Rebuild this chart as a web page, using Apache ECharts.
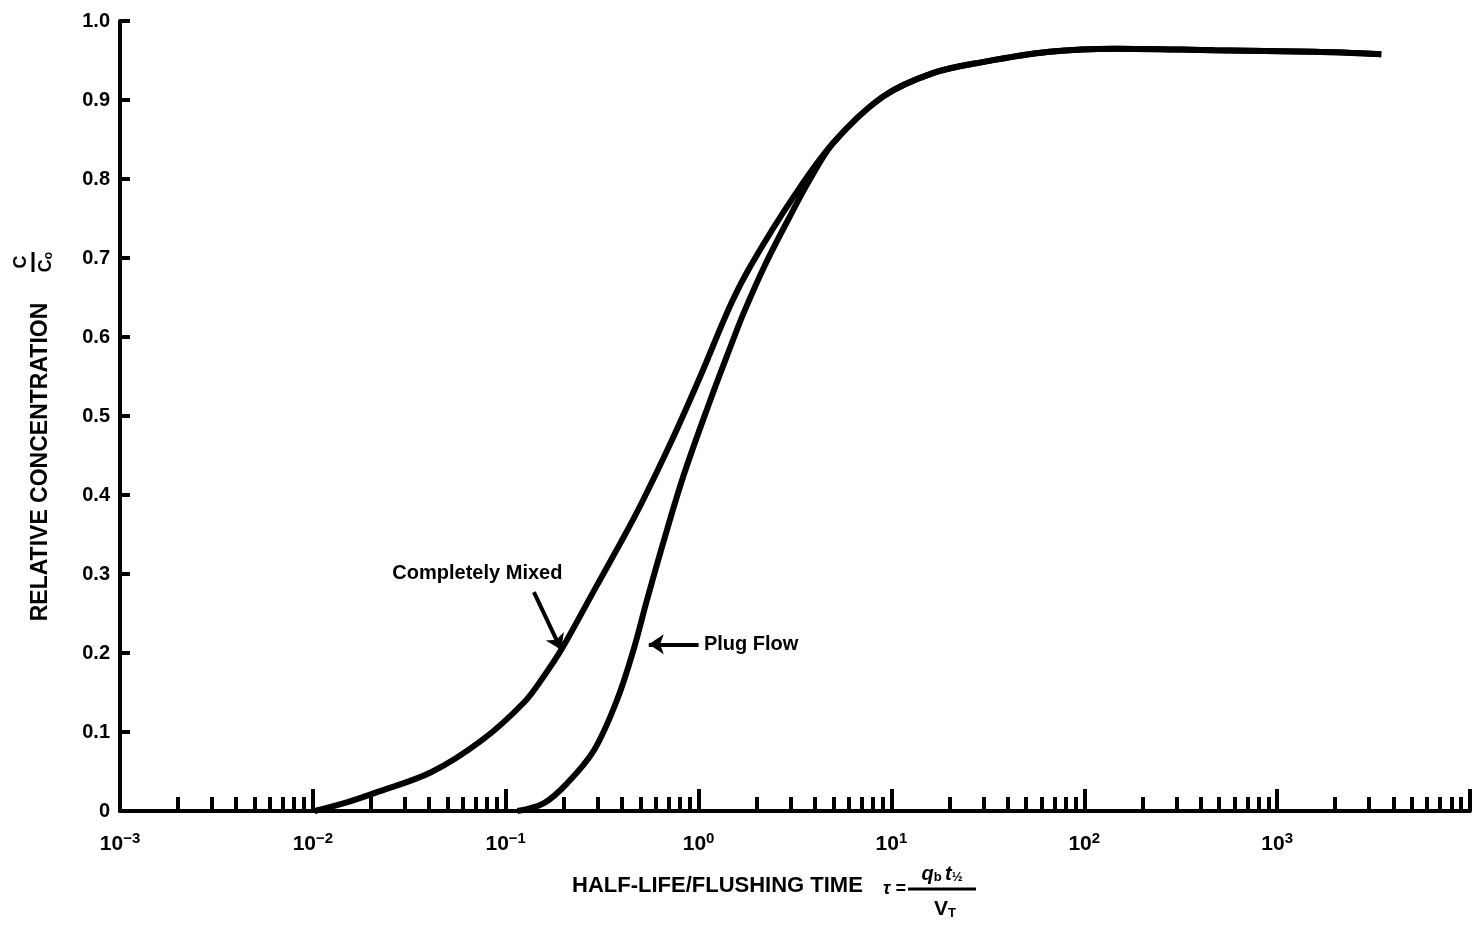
<!DOCTYPE html>
<html>
<head>
<meta charset="utf-8">
<title>Relative concentration vs half-life / flushing time</title>
<script src="https://cdn.jsdelivr.net/npm/echarts@6/dist/echarts.min.js"></script>
<style>
  html, body { margin: 0; padding: 0; background: #fff; }
  #chart { width: 1473px; height: 952px; }
</style>
</head>
<body>
<div id="chart"></div>
<script>
// tau = half-life / flushing time
const mixedTau = [0.0102, 0.015, 0.021, 0.041, 0.0756, 0.125, 0.158, 0.194, 0.287, 0.395, 0.50, 0.717, 1.02, 1.46, 1.86, 3.1, 5.0, 9.0, 16.4, 29.7, 65.9, 145, 475, 1563, 3467];
const mixedC   = [0.0, 0.011, 0.023, 0.049, 0.09, 0.138, 0.171, 0.204, 0.279, 0.34, 0.387, 0.466, 0.55, 0.64, 0.69, 0.777, 0.846, 0.904, 0.934, 0.948, 0.961, 0.965, 0.963, 0.961, 0.958];

const plugTau = [0.115, 0.158, 0.208, 0.287, 0.377, 0.46, 0.54, 0.66, 0.837, 1.15, 1.46, 1.71, 2.24, 3.1, 3.79, 5.0, 9.0, 16.4, 29.7, 65.9, 145, 475, 1563, 3467];
const plugC   = [0.0, 0.01, 0.035, 0.077, 0.14, 0.204, 0.267, 0.342, 0.425, 0.52, 0.587, 0.63, 0.694, 0.761, 0.80, 0.846, 0.904, 0.934, 0.948, 0.961, 0.965, 0.963, 0.961, 0.958];

const xMajorTicks = [0.001, 0.01, 0.1, 1, 10, 100, 1000, 10000];
const xLabelValues = [0.001, 0.01, 0.1, 1, 10, 100, 1000];
const xLabelExps = ['−3', '−2', '−1', '0', '1', '2', '3'];
const xMinorSteps = [2, 3, 4, 5, 6, 7, 8, 9];

// annotations (data coordinates)
const mixedLabel = { name: 'Completely Mixed', coord: [0.0713, 0.301] };
const mixedArrow = [[0.140, 0.277], [0.194, 0.204]];
const plugLabel = { name: 'Plug Flow', coord: [1.06, 0.211] };
const plugArrow = [[1.0, 0.211], [0.552, 0.211]];

const FONT = "'Liberation Sans', Arial, sans-serif";

let xMinorTicks = [];
xMajorTicks.slice(0, -1).forEach(d => {
  xMinorSteps.forEach(s => xMinorTicks.push(+(d * s).toPrecision(3)));
});

const chart = echarts.init(document.getElementById('chart'));

function zip(xs, ys) {
  return xs.map((x, i) => [x, ys[i]]);
}

function arrowLine(pts) {
  return [{ coord: pts[0] }, { coord: pts[1] }];
}

function curve(name, data, arrow, label, labelPos) {
  return {
    name: name,
    type: 'line',
    data: data,
    smooth: 0.35,
    showSymbol: false,
    silent: true,
    lineStyle: { color: '#000', width: 6 },
    markLine: {
      silent: true,
      symbol: ['none', 'arrow'],
      symbolSize: 15,
      label: { show: false },
      lineStyle: { color: '#000', width: 4, type: 'solid' },
      data: [arrowLine(arrow)]
    },
    markPoint: {
      silent: true,
      symbol: 'circle',
      symbolSize: 1,
      itemStyle: { color: 'rgba(0,0,0,0)' },
      label: {
        show: true, position: labelPos, distance: 0, formatter: '{b}',
        fontFamily: FONT, fontWeight: 'bold', fontSize: 20, color: '#000'
      },
      data: [label]
    }
  };
}

const logAxisBase = {
  type: 'log',
  logBase: 10,
  min: 0.001,
  max: 10000,
  position: 'bottom',
  splitLine: { show: false }
};

chart.setOption({
  animation: false,
  backgroundColor: '#fff',
  grid: { left: 120, right: 3, top: 21, bottom: 141 },
  xAxis: [
    Object.assign({}, logAxisBase, {
      axisLine: { lineStyle: { color: '#000', width: 4 } },
      axisTick: {
        inside: true, length: 22, customValues: xMajorTicks,
        lineStyle: { color: '#000', width: 4 }
      },
      axisLabel: {
        customValues: xLabelValues,
        margin: 20,
        formatter: v => {
          const i = xLabelValues.findIndex(t => Math.abs(Math.log10(t) - Math.log10(v)) < 1e-6);
          return i < 0 ? '' : '{b|10}{s|' + xLabelExps[i] + '}';
        },
        rich: {
          b: { fontFamily: FONT, fontWeight: 'bold', fontSize: 21, color: '#000', lineHeight: 24, verticalAlign: 'bottom' },
          s: { fontFamily: FONT, fontWeight: 'bold', fontSize: 15, color: '#000', lineHeight: 24, verticalAlign: 'top', padding: [0, 0, 10, 0] }
        }
      }
    }),
    Object.assign({}, logAxisBase, {
      axisLine: { show: false },
      axisTick: {
        inside: true, length: 14, customValues: xMinorTicks,
        lineStyle: { color: '#000', width: 4 }
      },
      axisLabel: { show: false }
    })
  ],
  yAxis: {
    type: 'value',
    min: 0,
    max: 1,
    interval: 0.1,
    splitLine: { show: false },
    axisLine: { show: true, lineStyle: { color: '#000', width: 4 } },
    axisTick: { show: true, inside: true, length: 10, lineStyle: { color: '#000', width: 4 } },
    axisLabel: {
      margin: 10,
      fontFamily: FONT,
      fontWeight: 'bold',
      fontSize: 20,
      color: '#000',
      formatter: v => (v === 0 ? '0' : v.toFixed(1))
    }
  },
  series: [
    curve('Completely Mixed', zip(mixedTau, mixedC), mixedArrow, mixedLabel, 'inside'),
    curve('Plug Flow', zip(plugTau, plugC), plugArrow, plugLabel, 'right')
  ],
  graphic: [
    // y axis title, reads bottom to top
    {
      type: 'text',
      x: 41, y: 462,
      rotation: Math.PI / 2,
      style: {
        text: 'RELATIVE CONCENTRATION',
        font: 'bold 23px ' + FONT,
        fill: '#000',
        textAlign: 'center',
        textVerticalAlign: 'middle'
      }
    },
    {
      type: 'group',
      x: 33, y: 262,
      rotation: Math.PI / 2,
      children: [
        { type: 'text', x: 0, y: -12, style: { text: 'C', font: 'bold 18px ' + FONT, fill: '#000', textAlign: 'center', textVerticalAlign: 'middle' } },
        { type: 'line', shape: { x1: -10, y1: 0, x2: 10, y2: 0 }, style: { stroke: '#000', lineWidth: 3 } },
        {
          type: 'text', x: 0, y: 12,
          style: {
            text: '{c|C}{o|o}', fill: '#000', textAlign: 'center', textVerticalAlign: 'middle',
            rich: {
              c: { fontFamily: FONT, fontWeight: 'bold', fontSize: 18, lineHeight: 20, verticalAlign: 'bottom' },
              o: { fontFamily: FONT, fontWeight: 'bold', fontSize: 12, lineHeight: 20, verticalAlign: 'bottom', padding: [6, 0, 0, 0] }
            }
          }
        }
      ]
    },
    // x axis title
    {
      type: 'text',
      x: 572, y: 886,
      style: {
        text: 'HALF-LIFE/FLUSHING TIME',
        font: 'bold 22px ' + FONT,
        fill: '#000',
        textAlign: 'left',
        textVerticalAlign: 'middle'
      }
    },
    {
      type: 'text',
      x: 883, y: 889,
      style: { text: 'τ =', font: 'italic bold 18px ' + FONT, fill: '#000', textAlign: 'left', textVerticalAlign: 'middle' }
    },
    {
      type: 'text',
      x: 942, y: 873,
      style: {
        text: '{i|q}{s|b} {i|t}{s|½}', fill: '#000', textAlign: 'center', textVerticalAlign: 'middle',
        rich: {
          i: { fontFamily: FONT, fontWeight: 'bold', fontStyle: 'italic', fontSize: 20, lineHeight: 22, verticalAlign: 'bottom' },
          s: { fontFamily: FONT, fontWeight: 'bold', fontSize: 13, lineHeight: 22, verticalAlign: 'bottom', padding: [7, 0, 0, 0] }
        }
      }
    },
    { type: 'line', shape: { x1: 908, y1: 889, x2: 976, y2: 889 }, style: { stroke: '#000', lineWidth: 3 } },
    {
      type: 'text',
      x: 945, y: 908,
      style: {
        text: '{v|V}{s|T}', fill: '#000', textAlign: 'center', textVerticalAlign: 'middle',
        rich: {
          v: { fontFamily: FONT, fontWeight: 'bold', fontSize: 21, lineHeight: 24, verticalAlign: 'bottom' },
          s: { fontFamily: FONT, fontWeight: 'bold', fontSize: 13, lineHeight: 24, verticalAlign: 'bottom', padding: [8, 0, 0, 0] }
        }
      }
    }
  ]
});
</script>
</body>
</html>
